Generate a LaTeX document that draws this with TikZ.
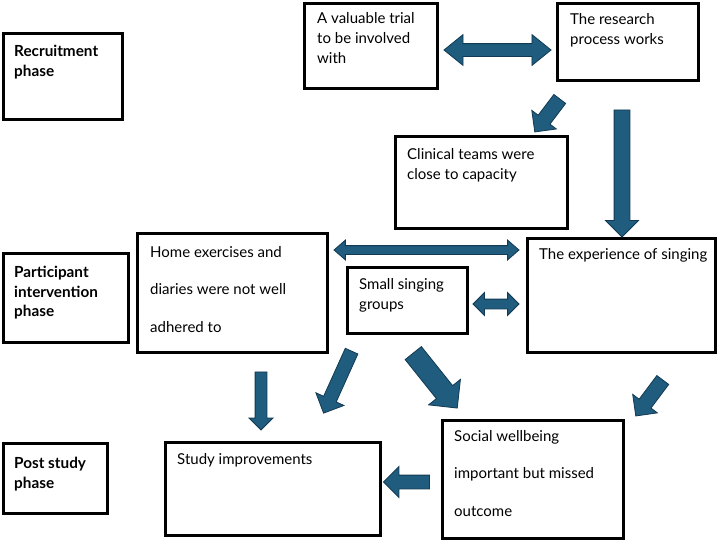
\documentclass[tikz,border=0pt]{standalone}
\usepackage{fontspec}
\setmainfont{Lato}
\usetikzlibrary{shapes.arrows, calc, positioning}
\definecolor{arrowfill}{RGB}{31, 92, 126}
\definecolor{arrowedge}{RGB}{18, 58, 82}

% block arrow between two coordinates: [shape]{from}{to}{shaft}{head}
\newcommand{\blockarrow}[5][single arrow]{%
  \path let \p1=(#2), \p2=(#3),
    \n1={atan2(\y2-\y1,\x2-\x1)}, \n2={veclen(\x2-\x1,\y2-\y1)} in
    node[bigarrow, #1, minimum height=\n2, inner ysep=#4/2, minimum width=#5,
      single arrow head extend=(#5-#4)/2, double arrow head extend=(#5-#4)/2,
      rotate=\n1] at ($(#2)!0.5!(#3)$) {};}

\begin{document}
\begin{tikzpicture}[
  x=1pt, y=-1pt,
  box/.style={rectangle, draw=black, line width=3pt, anchor=north west,
              inner sep=0pt, outer sep=0pt},
  txt/.style={font=\fontsize{15}{20}\selectfont, align=left,
              anchor=north west, inner sep=0pt},
  widetxt/.style={txt, font=\fontsize{15}{37.5}\selectfont},
  phase/.style={txt, font=\fontsize{15.3}{19.5}\selectfont\bfseries},
  bigarrow/.style={draw=arrowedge, fill=arrowfill, line width=0.8pt,
              inner xsep=0pt, single arrow tip angle=90, double arrow tip angle=90},
]
  \useasboundingbox (0,0) rectangle (718,541);

  % Phase labels
  \node[box, minimum width=119pt, minimum height=86pt] (rec) at (3,33) {};
  \node[phase] (rec-txt) at (14,45) {Recruitment\\phase};
  \node[box, minimum width=125pt, minimum height=89pt] (part) at (3,253) {};
  \node[phase] (part-txt) at (14,266) {Participant\\intervention\\phase};
  \node[box, minimum width=104pt, minimum height=70pt] (post) at (3,443) {};
  \node[phase] (post-txt) at (14,457) {Post study\\phase};

  % Row 1: trial / research process / clinical teams
  \node[box, minimum width=133pt, minimum height=85pt] (trial) at (304,3) {};
  \node[txt] (trial-txt) at (317,12) {A valuable trial\\to be involved\\with};
  \node[box, minimum width=141pt, minimum height=77pt] (research) at (557,3) {};
  \node[txt] (research-txt) at (570,13) {The research\\process works};
  \node[box, minimum width=172pt, minimum height=92pt] (clinical) at (395,136) {};
  \node[txt] (clinical-txt) at (407,148) {Clinical teams were\\close to capacity};

  % Row 2: intervention
  \node[box, minimum width=190pt, minimum height=119pt] (home) at (137,233) {};
  \node[widetxt] (home-txt) at (150,246) {Home exercises and\\diaries were not well\\adhered to};
  \node[box, minimum width=120pt, minimum height=66pt] (small) at (347,267) {};
  \node[txt] (small-txt) at (359,278) {Small singing\\groups};
  \node[box, minimum width=188pt, minimum height=114pt] (singing) at (527,238) {};
  \node[txt] (singing-txt) at (539,248) {The experience of singing};

  % Row 3: post study
  \node[box, minimum width=215pt, minimum height=93pt] (improve) at (165,442) {};
  \node[txt] (improve-txt) at (177,453) {Study improvements};
  \node[box, minimum width=181pt, minimum height=118pt] (social) at (442,420) {};
  \node[widetxt] (social-txt) at (454,430) {Social wellbeing\\important but missed\\outcome};

  % Arrow ends
  \coordinate (tr-l) at (444,50);   \coordinate (tr-r) at (551,50);
  \coordinate (rc-a) at (562,96);   \coordinate (rc-b) at (537,129);
  \coordinate (rs-a) at (622,106);  \coordinate (rs-b) at (622,233);
  \coordinate (hs-l) at (334,250);  \coordinate (hs-r) at (519,250);
  \coordinate (ss-l) at (473,304);  \coordinate (ss-r) at (519,304);
  \coordinate (hi-a) at (261,369);  \coordinate (hi-b) at (261,427);
  \coordinate (si-a) at (353,348);  \coordinate (si-b) at (325,410);
  \coordinate (sw-a) at (410,349);  \coordinate (sw-b) at (454,404);
  \coordinate (ew-a) at (665,377);  \coordinate (ew-b) at (638,413);
  \coordinate (wi-a) at (433,482);  \coordinate (wi-b) at (387,482);

  % Arrows
  \blockarrow[double arrow, double arrow tip angle=78]{tr-l}{tr-r}{12pt}{30pt}
  \blockarrow{rc-a}{rc-b}{14pt}{30pt}
  \blockarrow{rs-a}{rs-b}{15pt}{32pt}
  \blockarrow[double arrow, double arrow tip angle=82]{hs-l}{hs-r}{8pt}{19pt}
  \blockarrow[double arrow]{ss-l}{ss-r}{9pt}{22pt}
  \blockarrow{hi-a}{hi-b}{11pt}{23pt}
  \blockarrow{si-a}{si-b}{13pt}{30pt}
  \blockarrow{sw-a}{sw-b}{20pt}{40pt}
  \blockarrow{ew-a}{ew-b}{14pt}{30pt}
  \blockarrow{wi-a}{wi-b}{13pt}{30pt}
\end{tikzpicture}
\end{document}
